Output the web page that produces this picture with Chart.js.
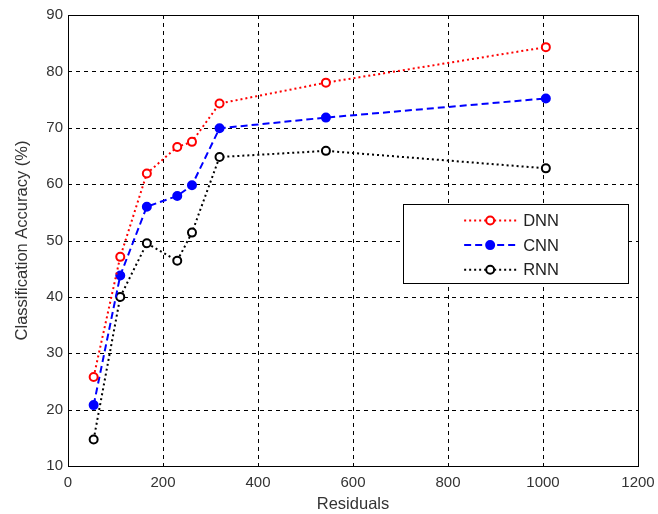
<!DOCTYPE html>
<html>
<head>
<meta charset="utf-8">
<script src="https://cdn.jsdelivr.net/npm/chart.js@4/dist/chart.umd.min.js"></script>
<style>
  html, body { margin: 0; padding: 0; background: #fff; }
  #wrap { width: 658px; height: 514px; }
</style>
</head>
<body>
<div id="wrap"><canvas id="chart"></canvas></div>
<script>
// values
const residuals = [54, 110, 166, 230, 261, 319, 543, 1006];
const dnnAcc = [25.8, 47.1, 61.9, 66.6, 67.5, 74.3, 78.0, 84.3];
const cnnAcc = [20.8, 43.8, 56.0, 57.9, 59.8, 69.9, 71.8, 75.2];
const rnnAcc = [14.7, 40.0, 49.5, 46.4, 51.4, 64.8, 65.9, 62.8];
const seriesNames = ['DNN', 'CNN', 'RNN'];

const toPoints = (ys) => ys.map((y, i) => ({ x: residuals[i], y: y }));

// dashed grid drawn by hand (under the lines)
const dashGrid = {
    id: 'dashGrid',
    beforeDatasetsDraw(chart) {
        const { ctx, chartArea: a, scales } = chart;
        ctx.save();
        ctx.strokeStyle = '#000';
        ctx.lineWidth = 1;
        ctx.setLineDash([4, 4]);
        scales.x.ticks.forEach(t => {
            const px = Math.round(scales.x.getPixelForValue(t.value)) + 0.5;
            ctx.beginPath(); ctx.moveTo(px, a.top); ctx.lineTo(px, a.bottom); ctx.stroke();
        });
        scales.y.ticks.forEach(t => {
            const py = Math.round(scales.y.getPixelForValue(t.value)) + 0.5;
            ctx.beginPath(); ctx.moveTo(a.left, py); ctx.lineTo(a.right, py); ctx.stroke();
        });
        ctx.restore();
    }
};

// box round the plot + legend inside the axes (matlab style)
const boxLegend = {
    id: 'boxLegend',
    afterDraw(chart) {
        const { ctx, chartArea: a } = chart;
        ctx.save();
        ctx.strokeStyle = '#000';
        ctx.lineWidth = 1;
        ctx.setLineDash([]);
        ctx.strokeRect(a.left + 0.5, a.top + 0.5, a.right - a.left, a.bottom - a.top);

        const w = a.right - a.left, h = a.bottom - a.top;
        const bx = a.left + w * 0.588, by = a.top + h * 0.42;
        const bw = w * 0.394, bh = h * 0.176;
        ctx.fillStyle = '#fff';
        ctx.fillRect(bx, by, bw, bh);
        ctx.strokeRect(Math.round(bx) + 0.5, Math.round(by) + 0.5, Math.round(bw), Math.round(bh));

        chart.data.datasets.forEach((ds, i) => {
            const y = by + 16 + i * 24.7;
            const x0 = bx + 61, x1 = bx + 113;
            ctx.strokeStyle = ds.borderColor;
            ctx.lineWidth = ds.borderWidth;
            ctx.setLineDash(ds.borderDash);
            ctx.beginPath();
            ctx.moveTo(x0, y);
            ctx.lineTo(x1, y);
            ctx.stroke();
            ctx.setLineDash([]);
            ctx.beginPath();
            ctx.arc((x0 + x1) / 2, y, ds.pointRadius, 0, Math.PI * 2);
            ctx.fillStyle = ds.pointBackgroundColor;
            ctx.fill();
            ctx.stroke();
            ctx.fillStyle = '#222';
            ctx.font = '16.5px "Liberation Sans", Arial, sans-serif';
            ctx.textBaseline = 'middle';
            ctx.fillText(ds.label, x1 + 7, y + 1);
        });
        ctx.restore();
    }
};

const tickFont = { family: '"Liberation Sans", Arial, sans-serif', size: 15 };
const titleFont = { family: '"Liberation Sans", Arial, sans-serif', size: 16.5 };

new Chart(document.getElementById('chart'), {
    type: 'line',
    data: {
        datasets: [
            {
                label: seriesNames[0],
                data: toPoints(dnnAcc),
                borderColor: '#ff0000',
                borderWidth: 2,
                borderDash: [2, 3],
                pointRadius: 4,
                pointBorderWidth: 2,
                pointBackgroundColor: '#fff',
                pointBorderColor: '#ff0000',
                tension: 0
            },
            {
                label: seriesNames[1],
                data: toPoints(cnnAcc),
                borderColor: '#0000ff',
                borderWidth: 2,
                borderDash: [7, 4],
                pointRadius: 4,
                pointBorderWidth: 2,
                pointBackgroundColor: '#0000ff',
                pointBorderColor: '#0000ff',
                tension: 0
            },
            {
                label: seriesNames[2],
                data: toPoints(rnnAcc),
                borderColor: '#000000',
                borderWidth: 2,
                borderDash: [2, 3],
                pointRadius: 4,
                pointBorderWidth: 2,
                pointBackgroundColor: '#fff',
                pointBorderColor: '#000000',
                tension: 0
            }
        ]
    },
    options: {
        responsive: true,
        maintainAspectRatio: false,
        animation: false,
        layout: { padding: { top: 15, right: 20, left: 0, bottom: 0 } },
        plugins: { legend: { display: false }, tooltip: { enabled: false } },
        scales: {
            x: {
                type: 'linear',
                min: 0,
                max: 1200,
                afterFit: (s) => { s.height = 48; s.paddingLeft = 0; s.paddingRight = 0; },
                ticks: { stepSize: 200, color: '#333', font: tickFont, padding: 8, maxRotation: 0, callback: (v) => String(v) },
                grid: { display: false, drawTicks: false },
                border: { display: false },
                title: { display: true, text: 'Residuals', color: '#333', font: titleFont, padding: { top: 2, bottom: 0 } }
            },
            y: {
                min: 10,
                max: 90,
                afterFit: (s) => { s.width = 68; s.paddingTop = 0; s.paddingBottom = 0; },
                ticks: { stepSize: 10, color: '#333', font: tickFont, padding: 5, callback: (v) => String(v) },
                grid: { display: false, drawTicks: false },
                border: { display: false },
                title: { display: true, text: 'Classification Accuracy (%)', color: '#333', font: titleFont, padding: { top: 13, bottom: 4 } }
            }
        }
    },
    plugins: [dashGrid, boxLegend]
});
</script>
</body>
</html>
